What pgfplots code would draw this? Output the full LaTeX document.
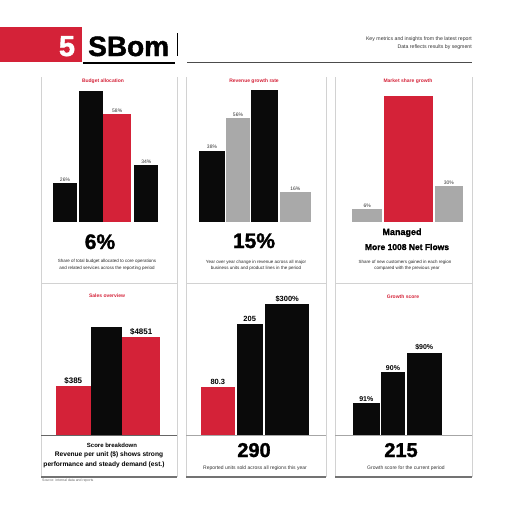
\documentclass[border=0pt]{standalone}
\usepackage{pgfplots}
\pgfplotsset{compat=1.18}
\usepackage{fontspec}
\setmainfont{Liberation Sans}
\newfontfamily\heavyfont[FakeBold=1.5]{Liberation Sans Bold}
\definecolor{cred}{HTML}{D42238}
\definecolor{cgray}{HTML}{A9A9A9}
\definecolor{cblack}{HTML}{0A0A0A}
\definecolor{cline}{HTML}{D2D2D2}
\newcommand{\pbar}[5]{\addplot[ybar, bar shift=0pt, bar width=#3, fill=#1, draw=none, nodes near coords={#5}] coordinates {(#2,#4)};}
\pgfplotsset{panel/.style={scale only axis, hide axis, clip=false, ymin=0, ymax=150, height=150pt, anchor=south west}}
\begin{document}
\begin{tikzpicture}[x=1pt,y=1pt]
\path[use as bounding box] (0,0) rectangle (512,-512);
% header
\fill[cred] (0,-27) rectangle (82,-62);
\node[text=white, anchor=base, inner sep=0] at (67,-56) {\heavyfont\fontsize{29}{29}\selectfont 5};
\node[anchor=base west, inner sep=0] at (88,-56) {\heavyfont\fontsize{28}{28}\selectfont SBom};
\draw[line width=1.2pt] (83,-63) -- (175,-63);
\draw[line width=1pt] (177,-33) -- (177,-56);
\draw[line width=1pt, black!70] (187,-62.5) -- (472,-62.5);
\node[anchor=base east, inner sep=0, text=black!80, font=\fontsize{5.2}{6}\selectfont] at (472,-40) {Key metrics and insights from the latest report};
\node[anchor=base east, inner sep=0, text=black!80, font=\fontsize{5.2}{6}\selectfont] at (472,-48) {Data reflects results by segment};
% grid
\foreach \xx in {41,177,186,326,335,472} \draw[cline, line width=0.7pt] (\xx,-77) -- (\xx,-477);
\foreach \a/\b in {41/177,186/326,335/472} {
  \draw[cline, line width=0.8pt] (\a,-283) -- (\b,-283);
  \draw[black!55, line width=1.3pt] (\a,-477) -- (\b,-477);
}
\draw[black!60, line width=0.9pt] (41,-435) -- (177,-435);
\draw[black!35, line width=0.8pt] (186,-435) -- (326,-435);
\draw[black!35, line width=0.8pt] (335,-435) -- (472,-435);

% panel 1
\begin{axis}[panel, at={(41,-221.7)}, xmin=41, xmax=177, width=136pt,
  every node near coord/.append style={font=\fontsize{5}{6}\selectfont, text=black!80, inner sep=1.5pt}]
\pbar{cblack}{65}{23.4}{38.4}{26\%}
\pbar{cblack}{91.3}{24}{131}{}
\pbar{cred}{117.2}{27.7}{107.4}{58\%}
\pbar{cblack}{146.3}{24}{56.7}{34\%}
\end{axis}
% panel 2
\begin{axis}[panel, at={(186,-221.7)}, xmin=186, xmax=326, width=140pt,
  every node near coord/.append style={font=\fontsize{5}{6}\selectfont, text=black!80, inner sep=1.5pt}]
\pbar{cblack}{212}{26}{71}{38\%}
\pbar{cgray}{238}{24}{103.4}{56\%}
\pbar{cblack}{264.3}{26.7}{131.7}{}
\pbar{cgray}{295.3}{30.7}{29.4}{16\%}
\end{axis}
% panel 3
\begin{axis}[panel, at={(335,-221.7)}, xmin=335, xmax=472, width=137pt,
  every node near coord/.append style={font=\fontsize{5}{6}\selectfont, text=black!80, inner sep=1.5pt}]
\pbar{cgray}{367.3}{30}{12.4}{6\%}
\pbar{cred}{408.8}{49}{125.7}{}
\pbar{cgray}{448.8}{27.7}{35.7}{30\%}
\end{axis}
% panel 4
\begin{axis}[panel, at={(41,-435)}, xmin=41, xmax=177, width=136pt,
  every node near coord/.append style={font=\bfseries\fontsize{8}{9}\selectfont, inner sep=2pt}]
\pbar{cred}{73.3}{34.7}{49}{\$385}
\pbar{cblack}{106.6}{31.3}{108.3}{}
\pbar{cred}{141.2}{37.7}{97.7}{\$4851}
\end{axis}
% panel 5
\begin{axis}[panel, at={(186,-435)}, xmin=186, xmax=326, width=140pt,
  every node near coord/.append style={font=\bfseries\fontsize{7.5}{9}\selectfont, inner sep=2pt}]
\pbar{cred}{217.8}{34.3}{48.3}{80.3}
\pbar{cblack}{249.7}{26}{111}{205}
\pbar{cblack}{287.2}{44.3}{131}{\$300\%}
\end{axis}
% panel 6
\begin{axis}[panel, at={(335,-435)}, xmin=335, xmax=472, width=137pt,
  every node near coord/.append style={font=\bfseries\fontsize{7}{8}\selectfont, inner sep=2pt}]
\pbar{cblack}{366.3}{27.3}{31.7}{91\%}
\pbar{cblack}{393}{24}{62.7}{90\%}
\pbar{cblack}{424.2}{35}{82.3}{\$90\%}
\end{axis}

% titles
\begin{scope}[every node/.style={text=cred, font=\bfseries\fontsize{5}{6}\selectfont, inner sep=0}]
\node at (103,-81) {Budget allocation};
\node at (254,-81) {Revenue growth rate};
\node at (408,-81) {Market share growth};
\node at (107,-296) {Sales overview};
\node at (403,-297) {Growth score};
\end{scope}
% big numbers
\node[anchor=base, inner sep=0] at (100,-249) {\heavyfont\fontsize{21}{21}\selectfont 6\%};
\node[anchor=base, inner sep=0] at (254,-248) {\heavyfont\fontsize{21}{21}\selectfont 15\%};
\node[anchor=base, inner sep=0] at (254,-457) {\heavyfont\fontsize{20}{20}\selectfont 290};
\node[anchor=base, inner sep=0] at (401,-457) {\heavyfont\fontsize{20}{20}\selectfont 215};
\node[anchor=base, inner sep=0] at (402,-235) {\heavyfont\fontsize{9}{10}\selectfont Managed};
\node[anchor=base, inner sep=0] at (407,-250) {\heavyfont\fontsize{8.5}{10}\selectfont More 1008 Net Flows};
% small text
\begin{scope}[every node/.style={text=black!85, font=\fontsize{4.5}{5}\selectfont, inner sep=0}]
\node at (107,-261) {Share of total budget allocated to core operations};
\node at (107,-268) {and related services across the reporting period};
\node at (256,-262) {Year over year change in revenue across all major};
\node at (256,-268) {business units and product lines in the period};
\node at (405,-262) {Share of new customers gained in each region};
\node at (407,-268) {compared with the previous year};
\end{scope}
\node[inner sep=0, font=\bfseries\fontsize{6}{7}\selectfont] at (112,-445) {Score breakdown};
\node[inner sep=0, font=\bfseries\fontsize{6.6}{8}\selectfont] at (109,-455) {Revenue per unit (\$) shows strong};
\node[inner sep=0, font=\bfseries\fontsize{6.6}{8}\selectfont] at (104,-465) {performance and steady demand (est.)};
\node[inner sep=0, text=black!80, font=\fontsize{5}{6}\selectfont] at (255,-468) {Reported units sold across all regions this year};
\node[inner sep=0, text=black!80, font=\fontsize{5}{6}\selectfont] at (406,-468) {Growth score for the current period};
\node[anchor=west, inner sep=0, text=black!60, font=\fontsize{3.5}{4}\selectfont] at (42,-481) {Source: internal data and reports};
\end{tikzpicture}
\end{document}
